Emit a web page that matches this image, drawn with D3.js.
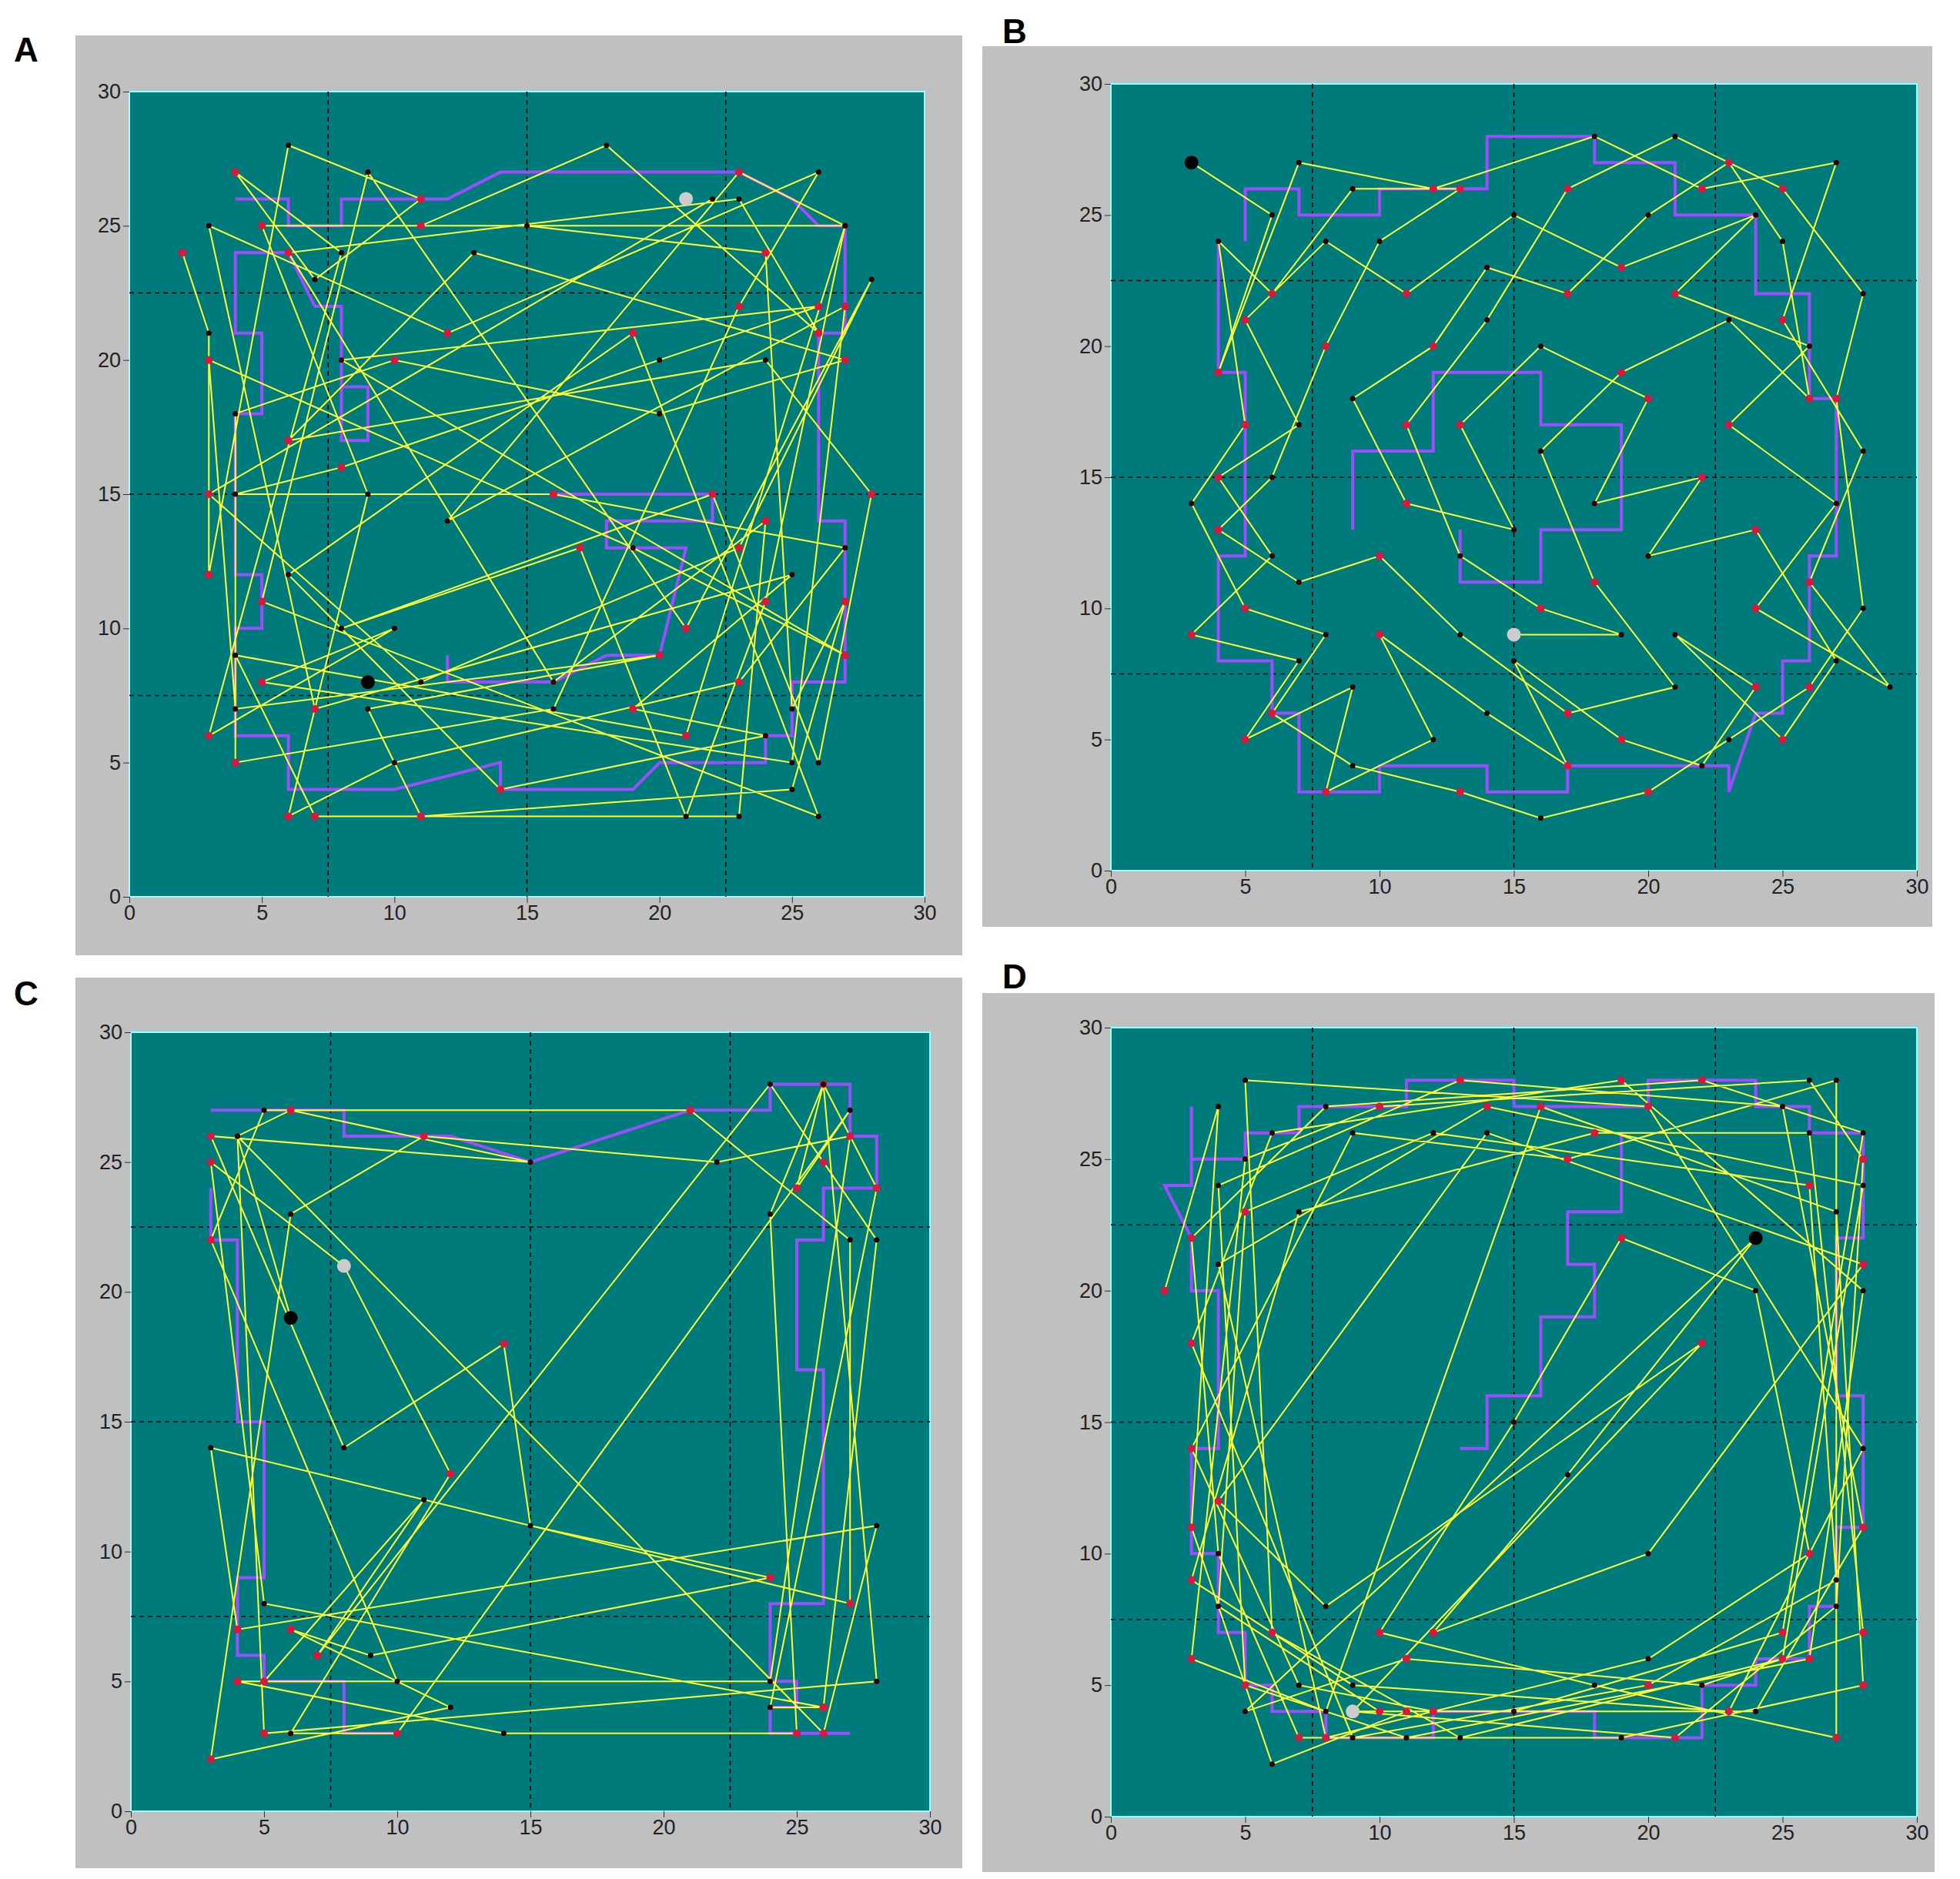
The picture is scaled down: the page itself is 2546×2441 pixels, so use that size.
<!DOCTYPE html>
<html><head><meta charset="utf-8">
<script src="https://cdn.jsdelivr.net/npm/d3@7"></script>
<style>body{margin:0;background:#fff}</style></head>
<body><svg id="c" width="2546" height="2441"></svg>
<script>
const ticks=[0,5,10,15,20,25,30];
const gridLines=[7.5,15,22.5];
const panelNames=["A","B","C","D"];
const yellowA=[[2,24],[3,21],[3,12],[6,28],[11,26],[7,23],[4,27],[8,24],[3,6],[10,10],[5,8],[25,5],[27,22],[12,14],[23,27],[27,25],[21,6],[4,9],[7,3],[23,3],[24,14],[16,8],[6,24],[23,26],[26,21],[18,28],[11,25],[15,25],[24,24],[25,7],[27,11],[25,4],[11,3],[9,7],[20,9],[4,7],[3,20],[19,13],[27,9],[8,20],[26,22],[20,20],[8,16],[4,15],[16,15],[27,13],[23,8],[10,5],[6,3],[9,15],[5,25],[27,25],[24,11],[21,3],[17,13],[8,10],[22,15],[26,5],[28,15],[24,20],[6,17],[13,24],[27,20],[20,18],[10,20],[4,18],[4,5],[16,7],[23,22],[26,27],[12,21],[3,25],[7,7],[25,12],[19,7],[24,6],[14,4],[6,12],[19,21],[26,3],[5,11],[9,27],[21,10],[28,23],[23,13],[11,8],[3,15],[22,26]];
const yellowB=[[3,27],[6,25],[4,19],[7,27],[12,26],[18,28],[22,26],[27,27],[25,21],[28,16],[26,11],[29,7],[24,10],[27,14],[23,17],[26,20],[21,22],[24,25],[19,23],[15,25],[11,22],[8,24],[5,21],[7,17],[4,15],[6,12],[3,9],[7,8],[5,5],[9,7],[8,3],[12,5],[10,9],[14,6],[17,4],[15,8],[19,5],[22,4],[24,7],[21,9],[25,5],[27,8],[24,13],[20,12],[22,15],[18,14],[20,18],[16,20],[13,17],[15,13],[11,14],[9,18],[12,20],[14,23],[17,22],[20,25],[23,27],[25,24],[26,18],[23,21],[19,19],[16,16],[18,11],[21,7],[17,6],[13,9],[10,12],[7,11],[4,13],[6,15],[8,20],[10,24],[13,26],[9,26],[6,22],[4,24],[5,17],[3,14],[5,10],[8,9],[6,6],[9,4],[13,3],[16,2],[20,3],[23,5],[26,7],[28,10],[27,18],[28,22],[25,26],[21,28],[17,26],[14,21],[11,17],[13,12],[16,10],[19,9],[15,9]];
const yellowC=[[6,19],[4,26],[5,3],[28,5],[26,28],[24,23],[25,3],[14,3],[4,5],[10,5],[3,22],[5,27],[21,27],[27,22],[27,8],[3,14],[4,7],[28,11],[26,3],[4,26],[6,27],[15,25],[3,26],[8,14],[14,18],[15,11],[24,9],[9,6],[6,7],[12,4],[3,2],[6,23],[11,26],[22,25],[27,26],[24,5],[5,5],[11,12],[7,6],[24,28],[26,25],[28,22],[26,4],[5,8],[3,25],[8,21],[12,13],[6,3],[10,3],[27,27],[25,24],[26,28],[28,24],[24,4],[26,4]];
const yellowD=[[2,20],[4,27],[3,11],[6,2],[11,4],[9,4],[21,3],[27,8],[28,25],[26,28],[10,27],[5,25],[3,6],[8,4],[16,27],[27,23],[28,5],[19,3],[7,3],[4,10],[3,22],[8,27],[22,28],[28,26],[25,7],[15,4],[10,4],[4,8],[5,23],[12,26],[26,24],[27,9],[20,5],[9,3],[3,18],[6,26],[19,28],[28,20],[26,6],[11,3],[5,5],[4,24],[13,28],[25,27],[28,11],[24,4],[12,4],[7,5],[3,14],[9,26],[17,25],[27,28],[27,3],[18,5],[10,7],[15,15],[19,22],[24,20],[26,10],[20,6],[8,3],[4,21],[14,27],[28,24],[25,6],[13,3],[6,7],[5,28],[20,27],[28,14],[23,4],[9,5],[3,9],[7,23],[18,26],[26,26],[28,7],[22,5],[11,6],[5,4],[24,22],[17,13],[12,7],[20,10],[28,21],[14,26],[4,12],[8,8],[22,18],[9,4]];
const purpleA=[[4,26],[6,26],[6,25],[8,25],[8,26],[12,26],[14,27],[20,27],[23,27],[25,26],[26,25],[27,25],[27,21],[26,21],[26,14],[27,14],[27,8],[25,8],[25,6],[24,6],[24,5],[20,5],[19,4],[14,4],[14,5],[10,4],[6,4],[6,6],[4,6],[4,10],[5,10],[5,12],[4,12],[4,18],[5,18],[5,21],[4,21],[4,24],[6,24],[7,22],[8,22],[8,17],[9,17],[9,19],[8,19]];
const purpleA2=[[16,15],[22,15],[22,14],[18,14],[18,13],[21,13],[20,9],[18,9],[16,8],[12,8],[12,9]];
const purpleB=[[4,24],[4,19],[5,19],[5,12],[4,12],[4,8],[6,8],[6,6],[7,6],[7,3],[10,3],[10,4],[14,4],[14,3],[17,3],[17,4],[23,4],[23,3],[24,6],[25,6],[25,8],[26,8],[26,12],[27,12],[27,18],[26,18],[26,22],[24,22],[24,25],[21,25],[21,27],[18,27],[18,28],[14,28],[14,26],[10,26],[10,25],[7,25],[7,26],[5,26],[5,24]];
const purpleB2=[[9,13],[9,16],[12,16],[12,19],[16,19],[16,17],[19,17],[19,13],[16,13],[16,11],[13,11],[13,13]];
const purpleC=[[3,27],[8,27],[8,26],[12,26],[15,25],[21,27],[24,27],[24,28],[27,28],[27,26],[28,26],[28,24],[26,24],[26,22],[25,22],[25,17],[26,17],[26,8],[24,8],[24,5],[25,5],[25,4],[24,4],[24,3],[27,3]];
const purpleC2=[[3,24],[3,22],[4,22],[4,15],[5,15],[5,9],[4,9],[4,6],[5,6],[5,5],[8,5],[8,3],[10,3]];
const purpleD=[[3,27],[3,24],[2,24],[3,22],[3,20],[4,20],[4,14],[3,14],[3,10],[4,10],[4,7],[5,7],[5,5],[6,5],[6,4],[8,4],[8,3],[12,3],[12,4],[18,4],[18,3],[22,3],[22,5],[24,5],[24,6],[26,6],[26,8],[27,8],[27,11],[28,11],[28,16],[27,16],[27,22],[28,22],[28,26],[26,26],[26,27],[24,27],[24,28],[20,28],[20,27],[15,27],[15,28],[11,28],[11,27],[7,27],[7,26],[5,26],[5,25],[3,25]];
const purpleD2=[[19,26],[19,23],[17,23],[17,21],[18,21],[18,19],[16,19],[16,16],[14,16],[14,14],[13,14]];
const startPts=[[9,8],[3,27],[6,19],[24,22]];
const endPts=[[21,26],[15,9],[8,21],[9,4]];
const panels=[
 {yel:yellowA,pur:[purpleA,purpleA2]},
 {yel:yellowB,pur:[purpleB,purpleB2]},
 {yel:yellowC,pur:[purpleC,purpleC2]},
 {yel:yellowD,pur:[purpleD,purpleD2]}];
const layout=[
 {gx:98,gy:46,gw:1152,gh:1195,px:168,py:119,pw:1033,ph:1046,lx:18,ly:80},
 {gx:1276,gy:60,gw:1234,gh:1144,px:1443,py:109,pw:1047,ph:1022,lx:1302,ly:56},
 {gx:98,gy:1270,gw:1152,gh:1157,px:170,py:1341,pw:1038,ph:1012,lx:18,ly:1306},
 {gx:1276,gy:1290,gw:1237,gh:1142,px:1443,py:1335,pw:1047,ph:1025,lx:1302,ly:1284}];
const svg=d3.select("#c");
panels.forEach((p,i)=>{
 const L=layout[i];
 svg.append("rect").attr("x",L.gx).attr("y",L.gy).attr("width",L.gw).attr("height",L.gh).attr("fill","#c0c0c0");
 svg.append("text").attr("x",L.lx).attr("y",L.ly).text(panelNames[i])
  .attr("font-family","Liberation Sans, Arial").attr("font-weight","bold").attr("font-size",44);
 const x=d3.scaleLinear().domain([0,30]).range([L.px,L.px+L.pw]);
 const y=d3.scaleLinear().domain([0,30]).range([L.py+L.ph,L.py]);
 const g=svg.append("g");
 g.append("rect").attr("x",L.px).attr("y",L.py).attr("width",L.pw).attr("height",L.ph)
  .attr("fill","#007b7b").attr("stroke","#9ff").attr("stroke-width",2);
 g.selectAll(".gv").data(gridLines).join("line").attr("x1",d=>x(d)).attr("x2",d=>x(d)).attr("y1",L.py).attr("y2",L.py+L.ph)
  .attr("stroke","#000").attr("stroke-dasharray","6,5").attr("stroke-width",1.5);
 g.selectAll(".gh").data(gridLines).join("line").attr("y1",d=>y(d)).attr("y2",d=>y(d)).attr("x1",L.px).attr("x2",L.px+L.pw)
  .attr("stroke","#000").attr("stroke-dasharray","6,5").attr("stroke-width",1.5);
 const line=d3.line().x(d=>x(d[0])).y(d=>y(d[1]));
 p.pur.forEach(pp=>g.append("path").attr("d",line(pp)).attr("fill","none").attr("stroke","#9b4dff").attr("stroke-width",4));
 g.append("path").attr("d",line(p.yel)).attr("fill","none").attr("stroke","#ffff33").attr("stroke-width",2);
 g.selectAll(".rd").data(p.yel.filter((d,k)=>k%2===0)).join("circle").attr("cx",d=>x(d[0])).attr("cy",d=>y(d[1])).attr("r",5).attr("fill","#e0143c");
 g.selectAll(".bd").data(p.yel.filter((d,k)=>k%2===1)).join("circle").attr("cx",d=>x(d[0])).attr("cy",d=>y(d[1])).attr("r",3.5).attr("fill","#300");
 g.append("circle").attr("cx",x(startPts[i][0])).attr("cy",y(startPts[i][1])).attr("r",9).attr("fill","#000");
 g.append("circle").attr("cx",x(endPts[i][0])).attr("cy",y(endPts[i][1])).attr("r",9).attr("fill","#ccc");
 const ax=svg.append("g").attr("transform",`translate(0,${L.py+L.ph})`).call(d3.axisBottom(x).tickValues(ticks).tickSize(8));
 const ay=svg.append("g").attr("transform",`translate(${L.px},0)`).call(d3.axisLeft(y).tickValues(ticks).tickSize(8));
 [ax,ay].forEach(a=>{a.select(".domain").remove();a.selectAll("line").attr("stroke","#333");
  a.selectAll("text").attr("font-size",27).attr("font-family","Liberation Sans, Arial").attr("fill","#222");});
});
</script></body></html>
